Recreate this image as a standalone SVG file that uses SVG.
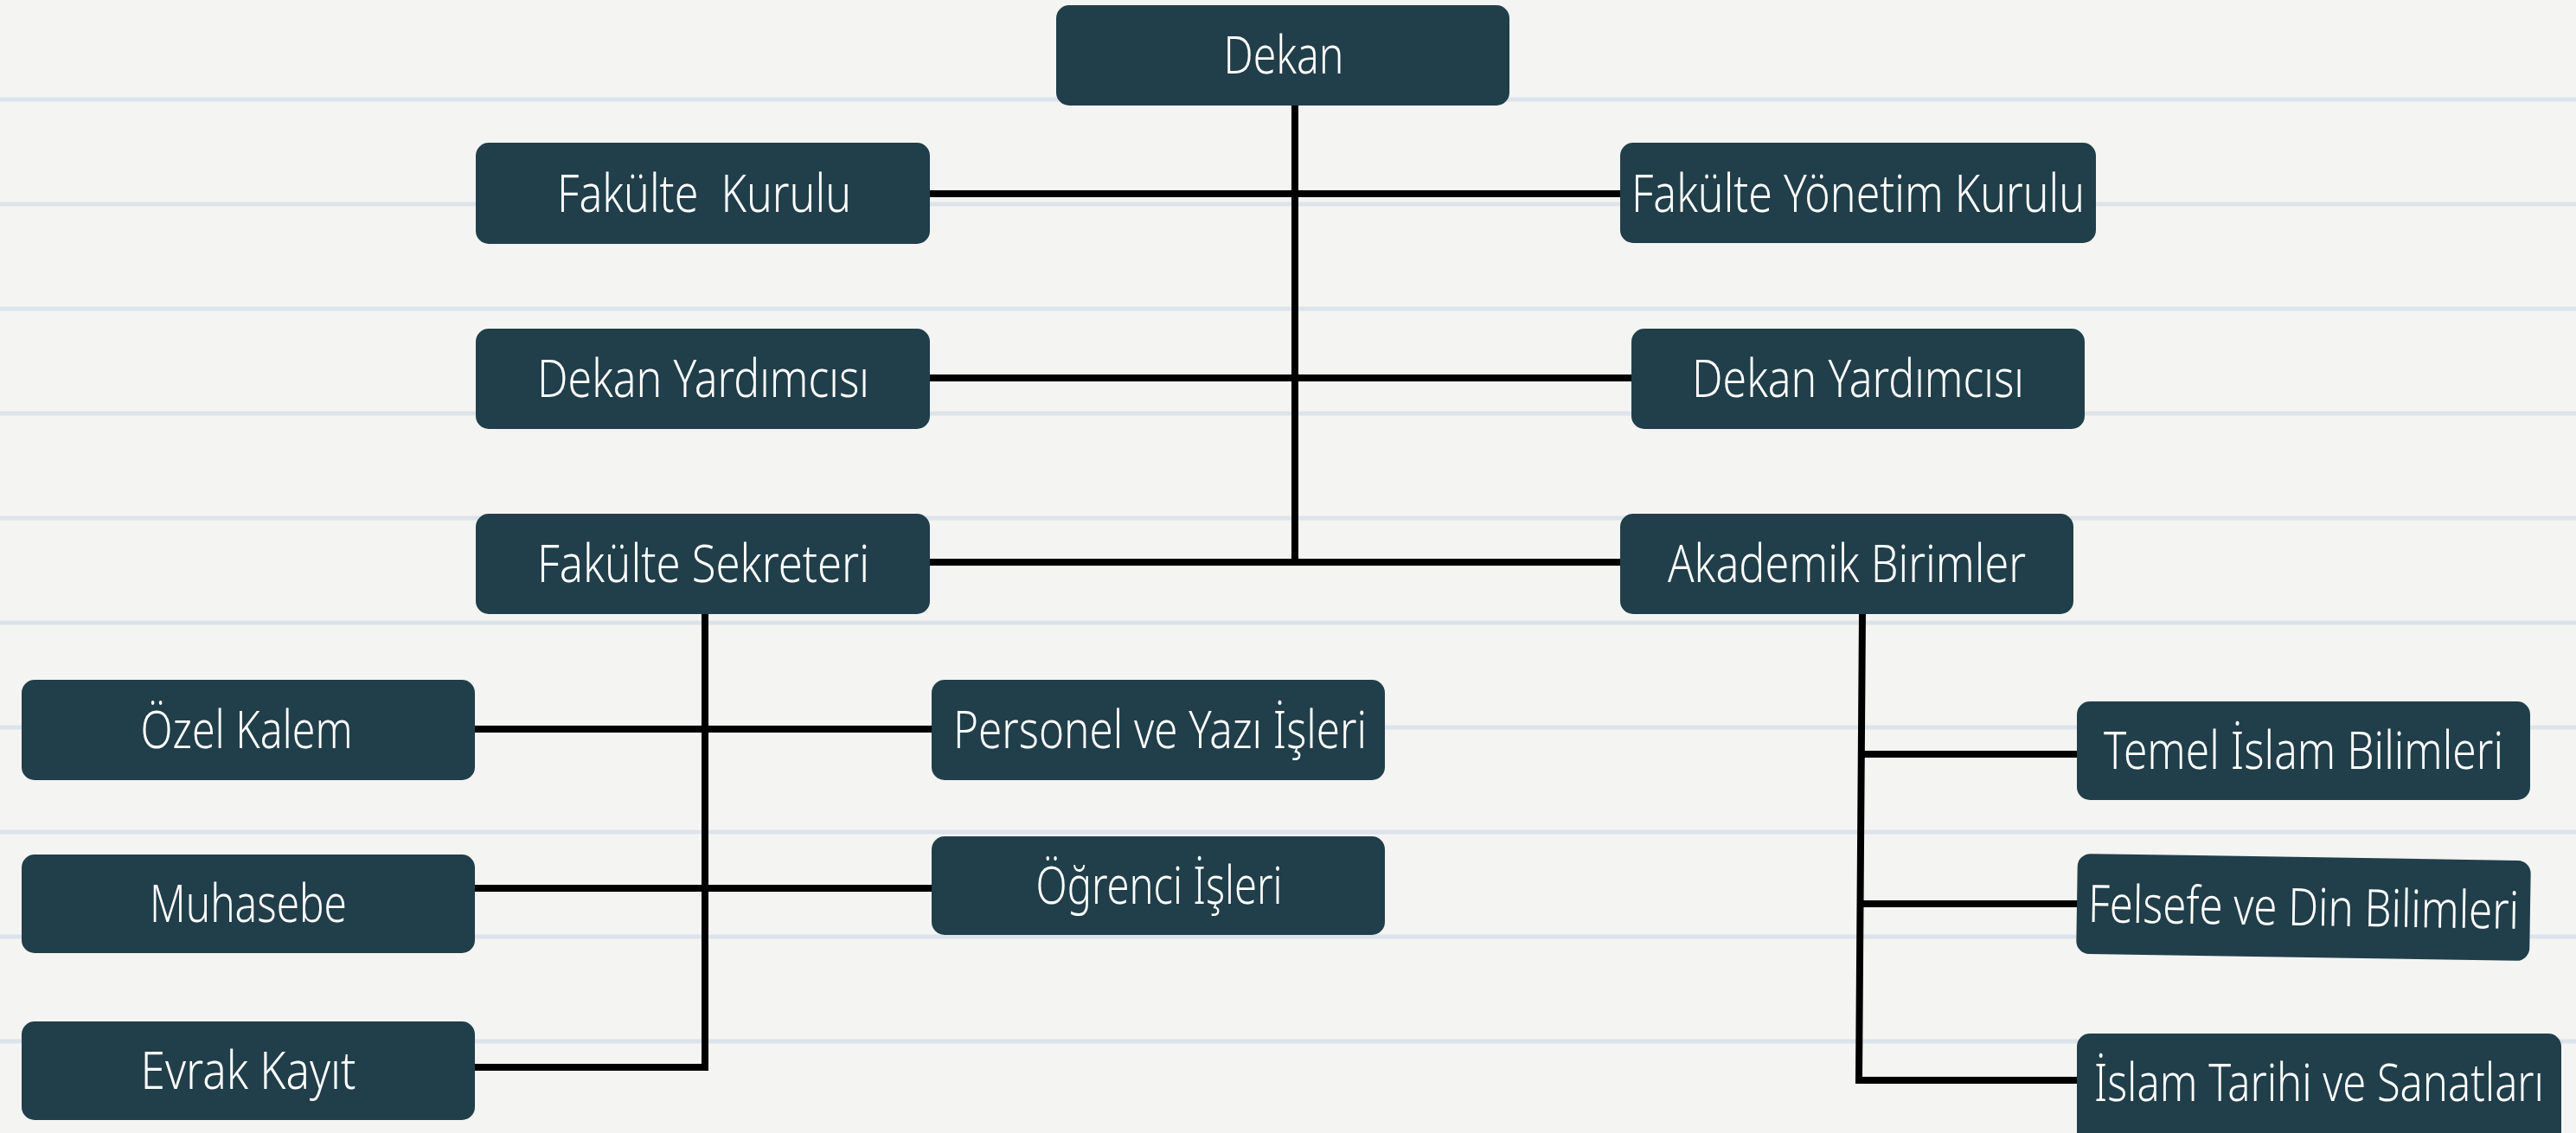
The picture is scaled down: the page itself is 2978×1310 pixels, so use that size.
<svg xmlns="http://www.w3.org/2000/svg" width="2978" height="1310" viewBox="0 0 2978 1310">
<style>
.bg{fill:#f4f4f2}
.rule{stroke:#dde3ea;stroke-width:5}
.box{fill:#213f4a}
.lbl{fill:#ffffff;font-family:"Noto Sans","Open Sans","DejaVu Sans",sans-serif;font-size:60px;font-weight:300;text-anchor:middle}
.conn{stroke:#000000;stroke-width:8;fill:none;stroke-linecap:square}
</style>
<rect class="bg" x="0" y="0" width="2978" height="1310"/>
<g id="rules">
<line class="rule" x1="0" y1="115" x2="2978" y2="115"/>
<line class="rule" x1="0" y1="236" x2="2978" y2="236"/>
<line class="rule" x1="0" y1="357" x2="2978" y2="357"/>
<line class="rule" x1="0" y1="478" x2="2978" y2="478"/>
<line class="rule" x1="0" y1="599" x2="2978" y2="599"/>
<line class="rule" x1="0" y1="720" x2="2978" y2="720"/>
<line class="rule" x1="0" y1="841" x2="2978" y2="841"/>
<line class="rule" x1="0" y1="962" x2="2978" y2="962"/>
<line class="rule" x1="0" y1="1083" x2="2978" y2="1083"/>
<line class="rule" x1="0" y1="1204" x2="2978" y2="1204"/>
</g>
<g id="connectors">
<line class="conn" x1="1497" y1="122" x2="1497" y2="650"/>
<line class="conn" x1="1075" y1="224" x2="1873" y2="224"/>
<line class="conn" x1="1075" y1="437" x2="1898" y2="437"/>
<line class="conn" x1="1075" y1="650" x2="1873" y2="650"/>
<line class="conn" x1="815" y1="710" x2="815" y2="1234"/>
<line class="conn" x1="549" y1="843" x2="1077" y2="843"/>
<line class="conn" x1="549" y1="1027" x2="1077" y2="1027"/>
<line class="conn" x1="549" y1="1234" x2="815" y2="1234"/>
<line class="conn" x1="2153" y1="710" x2="2149" y2="1249"/>
<line class="conn" x1="2152" y1="872" x2="2401" y2="872"/>
<line class="conn" x1="2151" y1="1045" x2="2401" y2="1045"/>
<line class="conn" x1="2149" y1="1249" x2="2401" y2="1249"/>
</g>
<g id="dekan">
<rect class="box" x="1221" y="6" width="524" height="116" rx="15"/>
<text class="lbl" transform="translate(1484 85) scale(0.78 1)" x="0" y="0" textLength="178.2" lengthAdjust="spacingAndGlyphs">Dekan</text>
</g>
<g id="fakulte-kurulu">
<rect class="box" x="550" y="165" width="525" height="117" rx="15"/>
<text class="lbl" transform="translate(814 245) scale(0.78 1)" x="0" y="0" textLength="435.9" lengthAdjust="spacingAndGlyphs" xml:space="preserve">Fakülte  Kurulu</text>
</g>
<g id="fakulte-yonetim-kurulu">
<rect class="box" x="1873" y="165" width="550" height="116" rx="15"/>
<text class="lbl" transform="translate(2148 245) scale(0.78 1)" x="0" y="0" textLength="671.8" lengthAdjust="spacingAndGlyphs">Fakülte Yönetim Kurulu</text>
</g>
<g id="dekan-yardimcisi-1">
<rect class="box" x="550" y="380" width="525" height="116" rx="15"/>
<text class="lbl" transform="translate(813 459) scale(0.78 1)" x="0" y="0" textLength="492.3" lengthAdjust="spacingAndGlyphs">Dekan Yardımcısı</text>
</g>
<g id="dekan-yardimcisi-2">
<rect class="box" x="1886" y="380" width="524" height="116" rx="15"/>
<text class="lbl" transform="translate(2148 459) scale(0.78 1)" x="0" y="0" textLength="492.3" lengthAdjust="spacingAndGlyphs">Dekan Yardımcısı</text>
</g>
<g id="fakulte-sekreteri">
<rect class="box" x="550" y="594" width="525" height="116" rx="15"/>
<text class="lbl" transform="translate(813 673) scale(0.78 1)" x="0" y="0" textLength="492.3" lengthAdjust="spacingAndGlyphs">Fakülte Sekreteri</text>
</g>
<g id="akademik-birimler">
<rect class="box" x="1873" y="594" width="524" height="116" rx="15"/>
<text class="lbl" transform="translate(2135 673) scale(0.78 1)" x="0" y="0" textLength="530.8" lengthAdjust="spacingAndGlyphs">Akademik Birimler</text>
</g>
<g id="ozel-kalem">
<rect class="box" x="25" y="786" width="524" height="116" rx="15"/>
<text class="lbl" transform="translate(285 865) scale(0.78 1)" x="0" y="0" textLength="314.1" lengthAdjust="spacingAndGlyphs">Özel Kalem</text>
</g>
<g id="personel-yazi-isleri">
<rect class="box" x="1077" y="786" width="524" height="116" rx="15"/>
<text class="lbl" transform="translate(1341 865) scale(0.78 1)" x="0" y="0" textLength="612.8" lengthAdjust="spacingAndGlyphs">Personel ve Yazı İşleri</text>
</g>
<g id="muhasebe">
<rect class="box" x="25" y="988" width="524" height="114" rx="15"/>
<text class="lbl" transform="translate(287 1066) scale(0.78 1)" x="0" y="0" textLength="292.3" lengthAdjust="spacingAndGlyphs">Muhasebe</text>
</g>
<g id="ogrenci-isleri">
<rect class="box" x="1077" y="967" width="524" height="114" rx="15"/>
<text class="lbl" transform="translate(1340 1045) scale(0.78 1)" x="0" y="0" textLength="365.4" lengthAdjust="spacingAndGlyphs">Öğrenci İşleri</text>
</g>
<g id="evrak-kayit">
<rect class="box" x="25" y="1181" width="524" height="114" rx="15"/>
<text class="lbl" transform="translate(287 1259) scale(0.78 1)" x="0" y="0" textLength="319.2" lengthAdjust="spacingAndGlyphs">Evrak Kayıt</text>
</g>
<g id="temel-islam-bilimleri">
<rect class="box" x="2401" y="811" width="524" height="114" rx="15"/>
<text class="lbl" transform="translate(2663 889) scale(0.78 1)" x="0" y="0" textLength="592.3" lengthAdjust="spacingAndGlyphs">Temel İslam Bilimleri</text>
</g>
<g id="felsefe-din-bilimleri" transform="rotate(0.9 2663 1049)">
<rect class="box" x="2401" y="991" width="524" height="116" rx="15"/>
<text class="lbl" transform="translate(2663 1070) scale(0.78 1)" x="0" y="0" textLength="638.5" lengthAdjust="spacingAndGlyphs">Felsefe ve Din Bilimleri</text>
</g>
<g id="islam-tarihi-sanatlari">
<rect class="box" x="2401" y="1195" width="560" height="130" rx="15"/>
<text class="lbl" transform="translate(2681 1273) scale(0.78 1)" x="0" y="0" textLength="666.7" lengthAdjust="spacingAndGlyphs">İslam Tarihi ve Sanatları</text>
</g>
</svg>
